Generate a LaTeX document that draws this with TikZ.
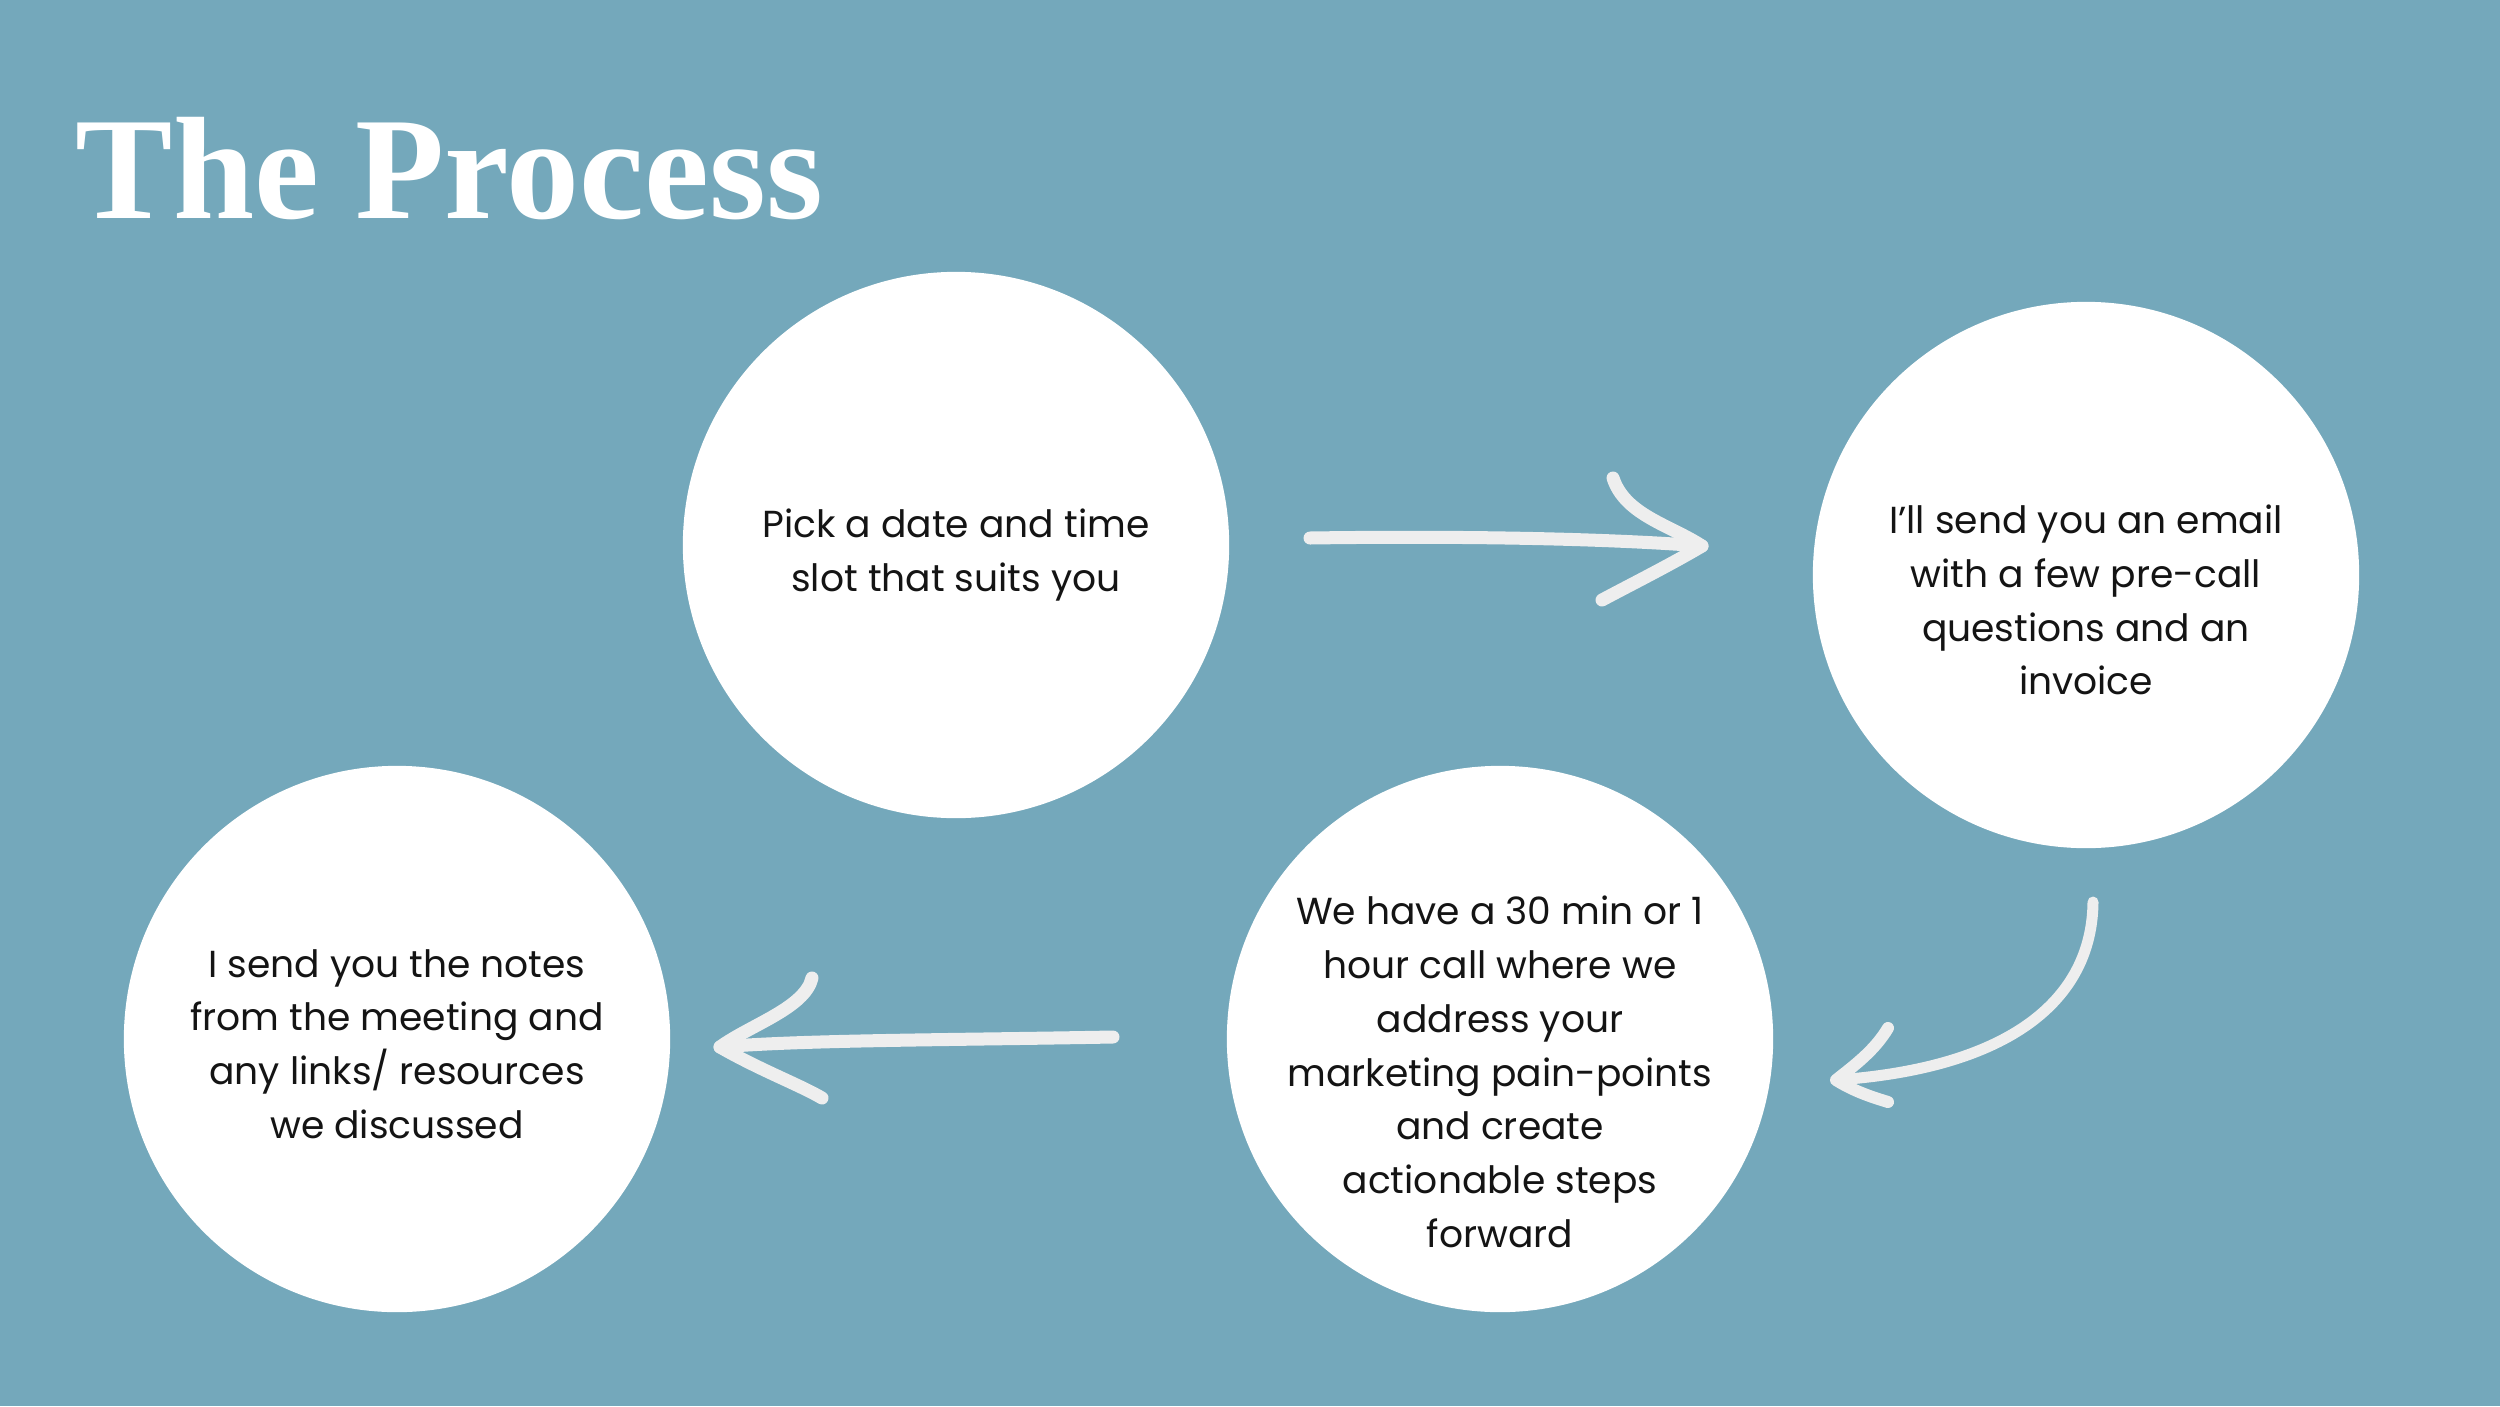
\documentclass[tikz,border=0pt]{standalone}
\usepackage{fontspec}
\setmainfont{Poppins}
\newfontfamily\titlefont{Liberation Serif}
\definecolor{bg}{RGB}{116,168,187}
\definecolor{strokecol}{RGB}{238,238,238}
\definecolor{inkcol}{RGB}{20,20,20}
\begin{document}
\begin{tikzpicture}[x=0.01cm,y=-0.01cm,
  stepcircle/.style={circle, fill=white, minimum size=5.46cm, inner sep=0pt},
  labeltext/.style={align=center, font=\fontsize{10.7}{15.3}\selectfont, text=inkcol, inner sep=0pt},
  hand/.style={draw=strokecol, line width=1.3mm, line cap=round, line join=round}]
\fill[bg] (0,0) rectangle (2500,1406);
\useasboundingbox (0,0) rectangle (2500,1406);
\node[anchor=base west, inner sep=0pt, text=white, font=\titlefont\bfseries\fontsize{41.5}{41.5}\selectfont] (title) at (75,218) {The Process};
\node[stepcircle] (c1) at (956,545) {};
\node[stepcircle] (c2) at (2086,575) {};
\node[stepcircle] (c3) at (1500,1039) {};
\node[stepcircle] (c4) at (397,1039) {};
\node[labeltext] (t1) at (956,555) {Pick a date and time\\slot that suits you};
\node[labeltext] (t2) at (2086,600) {I’ll send you an email\\with a few pre-call\\questions and an\\invoice};
\node[labeltext] (t3) at (1500,1072) {We have a 30 min or 1\\hour call where we\\address your\\marketing pain-points\\and create\\actionable steps\\forward};
\node[labeltext] (t4) at (397,1044) {I send you the notes\\from the meeting and\\any links/ resources\\we discussed};
% arrow 1
\coordinate (a1s) at (1310,538);
\coordinate (a1t) at (1702,546);
\coordinate (a1u) at (1613,478);
\coordinate (a1l) at (1602,600);
\draw[hand] (a1s) .. controls (1450,536) and (1600,538) .. (a1t);
\draw[hand] (a1u) .. controls (1625,515) and (1670,525) .. (a1t) .. controls (1670,565) and (1630,585) .. (a1l);
% arrow 2
\coordinate (a2s) at (2093,902);
\coordinate (a2t) at (1836,1080);
\coordinate (a2u) at (1888,1028);
\coordinate (a2l) at (1888,1102);
\draw[hand, line width=1.1mm] (a2s) .. controls (2092,1000) and (2010,1068) .. (a2t);
\draw[hand, line width=1.2mm] (a2u) .. controls (1875,1050) and (1855,1065) .. (a2t) .. controls (1855,1092) and (1875,1098) .. (a2l);
% arrow 3
\coordinate (a3s) at (1113,1037);
\coordinate (a3t) at (720,1047);
\coordinate (a3u) at (812,978);
\coordinate (a3l) at (822,1098);
\draw[hand] (a3s) .. controls (950,1040) and (800,1040) .. (a3t);
\draw[hand] (a3u) .. controls (805,1008) and (750,1025) .. (a3t) .. controls (760,1070) and (800,1085) .. (a3l);
\end{tikzpicture}
\end{document}
